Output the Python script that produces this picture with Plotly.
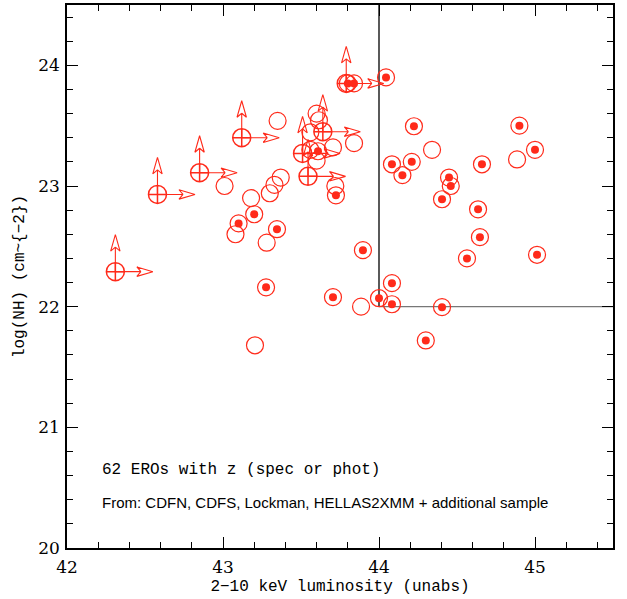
import plotly.graph_objects as go

# ---------------- data ----------------
# lower limits (circle + cross + up/right arrows)
lim_x = [42.31, 42.58, 42.85, 43.12, 43.545, 43.64, 43.51, 43.79]
lim_y = [22.29, 22.93, 23.11, 23.40, 23.08, 23.45, 23.27, 23.85]

# open circles (no central dot)
phot_x = [43.35, 43.01, 43.37, 43.33, 43.30, 43.18, 43.08, 43.28, 43.205, 43.72,
          43.885, 44.34, 44.885, 43.60, 43.615, 43.56, 43.705, 43.84, 43.56, 43.60]
phot_y = [23.54, 23.00, 23.07, 23.01, 22.94, 22.90, 22.60, 22.53, 21.68, 23.00,
          22.00, 23.30, 23.22, 23.60, 23.545, 23.445, 23.32, 23.355, 23.30, 23.21]

# circles with a central dot
spec_x = [43.20, 43.10, 43.346, 43.276, 43.724, 43.609, 43.897, 43.705, 44.00, 44.083,
          44.083, 44.083, 44.045, 44.224, 44.21, 44.15, 44.449, 44.46, 44.404, 44.66,
          44.90, 45.00, 44.635, 44.647, 44.564, 45.013, 44.404, 44.30, 43.80, 43.84]
spec_y = [22.766, 22.69, 22.642, 22.16, 22.923, 23.288, 22.468, 22.079, 22.07, 22.195,
          22.02, 23.18, 23.90, 23.495, 23.20, 23.09, 23.07, 23.00, 22.89, 23.18,
          23.50, 23.30, 22.807, 22.576, 22.40, 22.43, 21.996, 21.72, 23.85, 23.85]

x_ticks = [42, 43, 44, 45]
y_ticks = [20, 21, 22, 23, 24]
cut_x = 44
cut_y = 22

# ---------------- layout geometry ----------------
W, H = 627, 599
ML, MR, MT, MB = 67, 14, 5, 51
X_RANGE = [42, 45.5]
Y_RANGE = [20, 24.5]
pw = W - ML - MR
ph = H - MT - MB
sx = pw / (X_RANGE[1] - X_RANGE[0])   # px per x unit
sy = ph / (Y_RANGE[1] - Y_RANGE[0])   # px per y unit

RED = "#ff2a1a"

# arrows for the limits, built from the data through the axis scale
ax_, ay_ = [], []
for x, y in zip(lim_x, lim_y):
    # up arrow
    notch = y + 24.5 / sy
    corner = y + 20.5 / sy
    tip = y + 37 / sy
    hw = 4.7 / sx
    ax_ += [x, x, x - hw, x, x + hw, x, None]
    ay_ += [y, notch, corner, tip, corner, notch, None]
    # right arrow
    notch = x + 25.5 / sx
    corner = x + 21.5 / sx
    tip = x + 37.5 / sx
    hh = 4.7 / sy
    ax_ += [x, notch, corner, tip, corner, notch, None]
    ay_ += [y, y, y + hh, y, y - hh, y, None]

fig = go.Figure()

fig.add_trace(go.Scatter(x=phot_x, y=phot_y, mode="markers", hoverinfo="skip",
                         marker=dict(symbol="circle-open", size=17, color=RED,
                                     line=dict(width=1.2, color=RED))))
fig.add_trace(go.Scatter(x=spec_x, y=spec_y, mode="markers", hoverinfo="skip",
                         marker=dict(symbol="circle-open", size=17, color=RED,
                                     line=dict(width=1.2, color=RED))))
fig.add_trace(go.Scatter(x=spec_x, y=spec_y, mode="markers", hoverinfo="skip",
                         marker=dict(symbol="circle", size=8, color=RED,
                                     line=dict(width=0))))
fig.add_trace(go.Scatter(x=ax_, y=ay_, mode="lines", hoverinfo="skip",
                         line=dict(color=RED, width=1.1)))
fig.add_trace(go.Scatter(x=lim_x, y=lim_y, mode="markers", hoverinfo="skip",
                         marker=dict(symbol="circle-cross-open", size=18, color=RED,
                                     line=dict(width=1.5, color=RED))))

# selection lines
fig.add_shape(type="line", x0=cut_x, x1=cut_x, y0=cut_y, y1=Y_RANGE[1],
              line=dict(color="black", width=1.3), layer="below")
fig.add_shape(type="line", x0=cut_x, x1=X_RANGE[1], y0=cut_y, y1=cut_y,
              line=dict(color="#777777", width=1.3), layer="below")

fig.add_annotation(x=42.21, y=20.645, xref="x", yref="y", xanchor="left",
                   yanchor="middle", showarrow=False,
                   text="62 EROs with z (spec or phot)",
                   font=dict(family="Liberation Mono", size=16, color="black"))
fig.add_annotation(x=42.21, y=20.38, xref="x", yref="y", xanchor="left",
                   yanchor="middle", showarrow=False,
                   text="From: CDFN, CDFS, Lockman, HELLAS2XMM + additional sample",
                   font=dict(family="Liberation Sans", size=15, color="black"))

axis_common = dict(showline=True, linecolor="black", linewidth=1.5, mirror="ticks",
                   ticks="inside", ticklen=11, tickwidth=1.2, tickcolor="black",
                   showgrid=False, zeroline=False,
                   tickfont=dict(family="DejaVu Serif", size=17, color="black"),
                   minor=dict(ticks="inside", ticklen=6, tickwidth=1.0,
                              tickcolor="black", dtick=0.2, showgrid=False))

fig.update_xaxes(range=X_RANGE, tickvals=x_ticks, ticktext=[str(v) for v in x_ticks],
                 ticklabelstandoff=3,
                 title=dict(text="2\u221210 keV luminosity (unabs)", standoff=4,
                            font=dict(family="Liberation Mono", size=16, color="black")),
                 **axis_common)
fig.update_yaxes(range=Y_RANGE, tickvals=y_ticks, ticktext=[str(v) for v in y_ticks],
                 ticklabelstandoff=2,
                 title=dict(text="log(NH) (cm~{\u22122})", standoff=10,
                            font=dict(family="Liberation Mono", size=16, color="black")),
                 **axis_common)

fig.update_layout(width=W, height=H, showlegend=False,
                  margin=dict(l=ML, r=MR, t=MT, b=MB, autoexpand=False),
                  paper_bgcolor="white", plot_bgcolor="white")

fig.write_html("out.html", config={"displayModeBar": False},
               post_script="document.body.style.margin='0px';"
                           "document.body.style.overflow='hidden';")
